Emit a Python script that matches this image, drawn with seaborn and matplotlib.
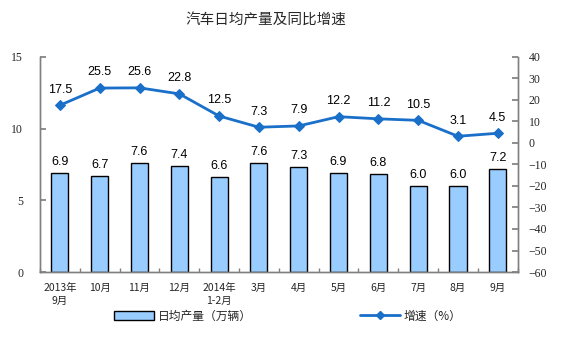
import numpy as np
import pandas as pd
import matplotlib
matplotlib.use('Agg')
import matplotlib.pyplot as plt
import seaborn as sns
from matplotlib.patches import Patch
from matplotlib.lines import Line2D

# Data
months = ['2013年\n9月', '10月', '11月', '12月', '2014年\n1-2月', '3月', '4月',
          '5月', '6月', '7月', '8月', '9月']
daily_output = [6.9, 6.7, 7.6, 7.4, 6.6, 7.6, 7.3, 6.9, 6.8, 6.0, 6.0, 7.2]
growth_rate = [17.5, 25.5, 25.6, 22.8, 12.5, 7.3, 7.9, 12.2, 11.2, 10.5, 3.1, 4.5]

bar_color = '#99CCFF'
line_color = '#1A6FC9'
axis_color = '#808080'

sns.set_theme(style='white')
plt.rcParams['font.family'] = ['Noto Sans CJK SC', 'DejaVu Sans']

df = pd.DataFrame({'month': months, 'output': daily_output, 'growth': growth_rate})
df['pos'] = np.arange(len(df))

fig = plt.figure(figsize=(5.64, 3.51), dpi=100)
ax = fig.add_axes([0.0709, 0.225, 0.847, 0.613])

sns.barplot(data=df, x='month', y='output', color=bar_color, width=0.43,
            edgecolor='black', linewidth=1.0, saturation=1, ax=ax)
ax.set_ylim(0, 15)
ax.set_yticks([0, 5, 10, 15])
ax.set_xlim(-0.5, len(df) - 0.5)
ax.set_xlabel('')
ax.set_ylabel('')

for i, v in enumerate(daily_output):
    ax.text(i, v + 0.35, f'{v:.1f}', ha='center', va='bottom', fontsize=9,
            family=['Liberation Sans', 'DejaVu Sans'], color='black')

ax2 = ax.twinx()
sns.lineplot(data=df, x='pos', y='growth', color=line_color, marker='D',
             markersize=5, markeredgecolor=line_color, linewidth=2, ax=ax2)
ax2.set_ylim(-60, 40)
ax2.set_yticks(np.arange(-60, 41, 10))
ax2.set_ylabel('')
ax2.set_xlabel('')

for i, v in enumerate(growth_rate):
    ax2.text(i, v + 4.5, f'{v:.1f}', ha='center', va='bottom', fontsize=9,
             family=['Liberation Sans', 'DejaVu Sans'], color='black')

# Axis styling
for a in (ax, ax2):
    a.spines['top'].set_visible(False)
    for side in ('left', 'right', 'bottom'):
        a.spines[side].set_color(axis_color)
        a.spines[side].set_linewidth(1.0)

ax.tick_params(axis='y', direction='in', length=4, color=axis_color, left=True,
               labelsize=8.5, pad=12)
ax2.tick_params(axis='y', direction='in', length=4, color=axis_color, right=True,
                labelsize=8.5, pad=8)
for lab in ax.get_yticklabels() + ax2.get_yticklabels():
    lab.set_family(['Liberation Serif', 'DejaVu Serif'])

# category labels on the shared x axis, small ticks between categories
ax.set_xlim(-0.5, len(df) - 0.5)
ax.set_xticks(np.arange(len(df)))
ax.set_xticklabels(months, fontsize=7.5, linespacing=1.4)
ax.tick_params(axis='x', which='major', length=0, pad=8, bottom=True, labelbottom=True)
ax.set_xticks(np.arange(len(df) + 1) - 0.5, minor=True)
ax.tick_params(axis='x', which='minor', direction='in', length=3, color=axis_color,
               bottom=True)

fig.text(0.472, 0.945, '汽车日均产量及同比增速', ha='center', va='center', fontsize=10.5)

leg1 = fig.legend(handles=[Patch(facecolor=bar_color, edgecolor='black', label='日均产量（万辆）')],
                  loc='center left', bbox_to_anchor=(0.183, 0.1), frameon=False,
                  fontsize=8.5, handlelength=3.4, handleheight=0.8, handletextpad=0.3)
leg2 = fig.legend(handles=[Line2D([0], [0], color=line_color, lw=2, marker='D', markersize=4,
                                  label='增速（%）')],
                  loc='center left', bbox_to_anchor=(0.62, 0.1), frameon=False,
                  fontsize=8.5, handlelength=3.4, handletextpad=0.3)

fig.savefig('out.png', dpi=100)
